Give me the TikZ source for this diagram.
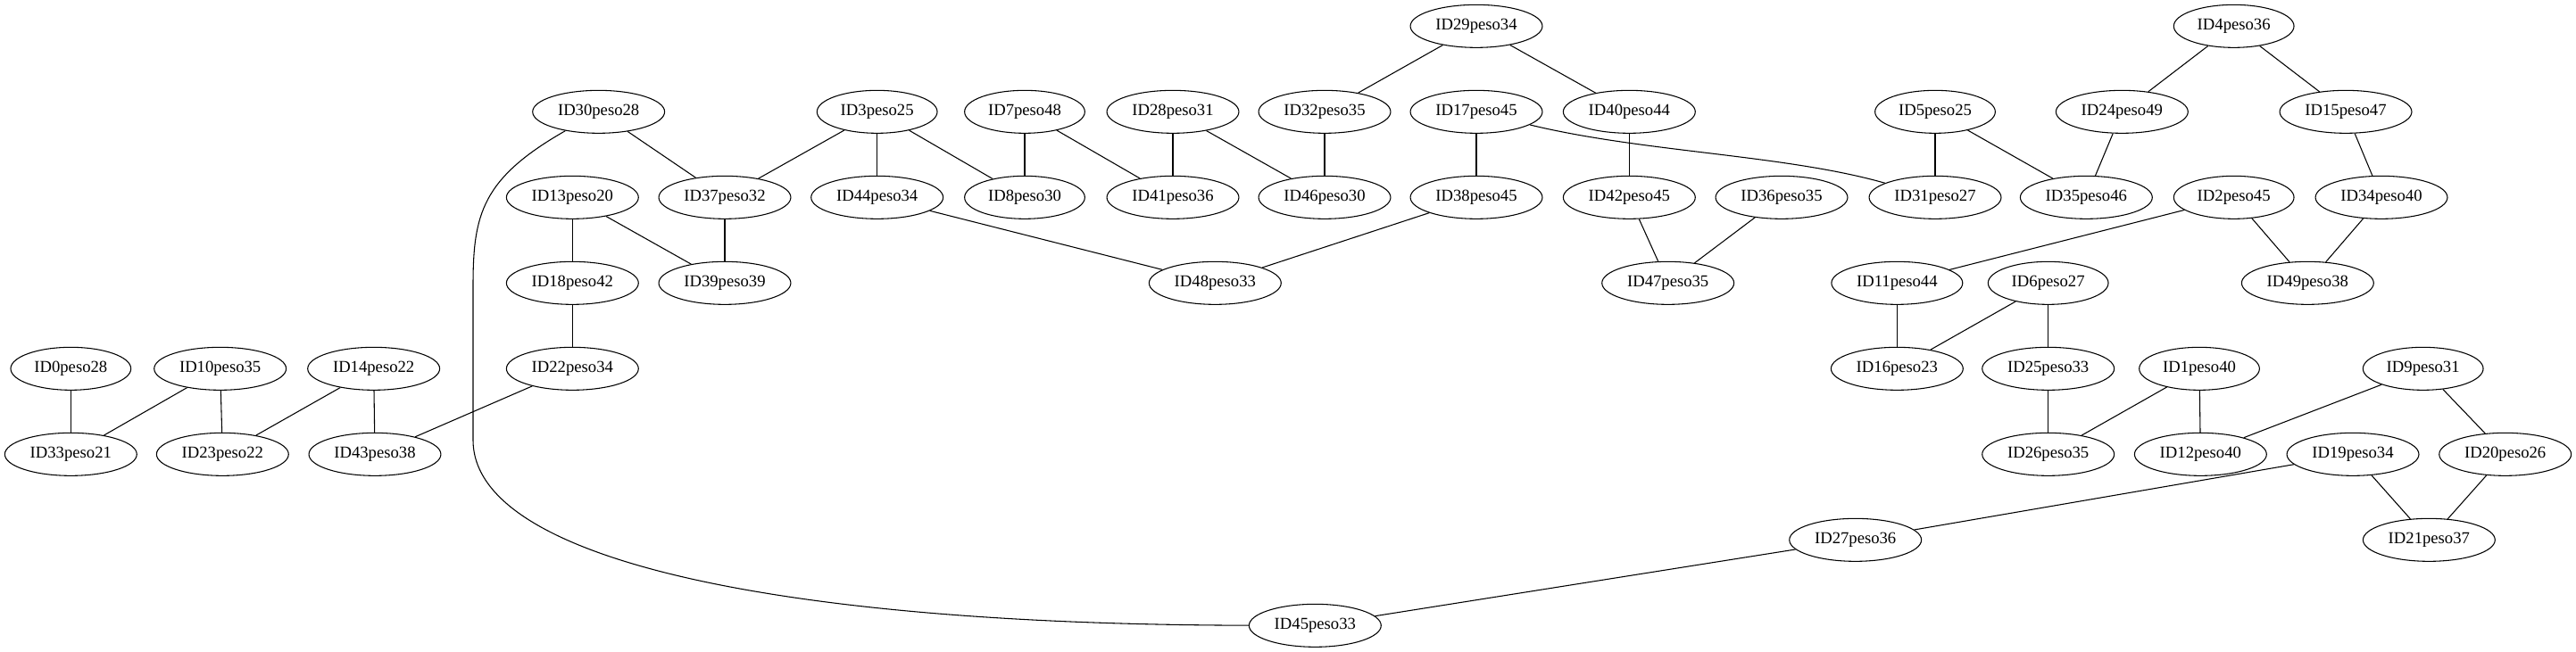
\documentclass[tikz,border=0pt]{standalone}
\usepackage{fontspec}
\setmainfont{Liberation Serif}
\usetikzlibrary{shapes.geometric}
\tikzset{graphnode/.style={
		ellipse,
		draw,
		line width=0.8pt,
		inner xsep=5pt,
		inner ysep=2pt,
		minimum height=36pt,
		font=\fontsize{14}{16}\selectfont
	}}

\begin{document}
\begin{tikzpicture}[x=1pt,y=-1pt,line width=0.8pt]
				\useasboundingbox (0,0) rectangle (2164.5,548.25);
				\node[graphnode] (ID29) at (1240.5,22) {ID29peso34};
				\node[graphnode] (ID4) at (1877,22) {ID4peso36};
				
				\node[graphnode] (ID30) at (503,94) {ID30peso28};
				\node[graphnode] (ID3) at (737,94) {ID3peso25};
				\node[graphnode] (ID7) at (861,94) {ID7peso48};
				\node[graphnode] (ID28) at (985.5,94) {ID28peso31};
				\node[graphnode] (ID32) at (1113,94) {ID32peso35};
				\node[graphnode] (ID17) at (1240.5,94) {ID17peso45};
				\node[graphnode] (ID40) at (1369,94) {ID40peso44};
				\node[graphnode] (ID5) at (1626,94) {ID5peso25};
				\node[graphnode] (ID24) at (1783,94) {ID24peso49};
				\node[graphnode] (ID15) at (1971,94) {ID15peso47};
				
				\node[graphnode] (ID13) at (481,166) {ID13peso20};
				\node[graphnode] (ID37) at (609,166) {ID37peso32};
				\node[graphnode] (ID44) at (737,166) {ID44peso34};
				\node[graphnode] (ID8) at (861,166) {ID8peso30};
				\node[graphnode] (ID41) at (985.5,166) {ID41peso36};
				\node[graphnode] (ID46) at (1113,166) {ID46peso30};
				\node[graphnode] (ID38) at (1240.5,166) {ID38peso45};
				\node[graphnode] (ID42) at (1369,166) {ID42peso45};
				\node[graphnode] (ID36) at (1497,166) {ID36peso35};
				\node[graphnode] (ID31) at (1626,166) {ID31peso27};
				\node[graphnode] (ID35) at (1753,166) {ID35peso46};
				\node[graphnode] (ID2) at (1877,166) {ID2peso45};
				\node[graphnode] (ID34) at (2001,166) {ID34peso40};
				
				\node[graphnode] (ID18) at (481,238) {ID18peso42};
				\node[graphnode] (ID39) at (609,238) {ID39peso39};
				\node[graphnode] (ID48) at (1021,238) {ID48peso33};
				\node[graphnode] (ID47) at (1401.5,238) {ID47peso35};
				\node[graphnode] (ID11) at (1594,238) {ID11peso44};
				\node[graphnode] (ID6) at (1721,238) {ID6peso27};
				\node[graphnode] (ID49) at (1939,238) {ID49peso38};
				
				\node[graphnode] (ID0) at (59.5,310) {ID0peso28};
				\node[graphnode] (ID10) at (185,310) {ID10peso35};
				\node[graphnode] (ID14) at (314,310) {ID14peso22};
				\node[graphnode] (ID22) at (481,310) {ID22peso34};
				\node[graphnode] (ID16) at (1594,310) {ID16peso23};
				\node[graphnode] (ID25) at (1721,310) {ID25peso33};
				\node[graphnode] (ID1) at (1848,310) {ID1peso40};
				\node[graphnode] (ID9) at (2036,310) {ID9peso31};
				
				\node[graphnode] (ID33) at (59.5,382) {ID33peso21};
				\node[graphnode] (ID23) at (187,382) {ID23peso22};
				\node[graphnode] (ID43) at (315,382) {ID43peso38};
				\node[graphnode] (ID26) at (1721,382) {ID26peso35};
				\node[graphnode] (ID12) at (1849,382) {ID12peso40};
				\node[graphnode] (ID19) at (1977,382) {ID19peso34};
				\node[graphnode] (ID20) at (2105,382) {ID20peso26};
				
				\node[graphnode] (ID27) at (1559,454) {ID27peso36};
				\node[graphnode] (ID21) at (2041,454) {ID21peso37};
				
				\node[graphnode] (ID45) at (1105,526) {ID45peso33};
				
				\draw (ID29) -- (ID32);
				\draw (ID29) -- (ID40);
				\draw (ID4) -- (ID24);
				\draw (ID4) -- (ID15);
				\draw (ID30) -- (ID37);
				\draw (ID30) .. controls (405,150) and (397.5,180) .. (397.5,240) -- (397.5,370) .. controls (397.5,470) and (650,525) .. (ID45);
				\draw (ID3) -- (ID37);
				\draw (ID3) -- (ID44);
				\draw (ID3) -- (ID8);
				\draw (ID7) -- (ID8);
				\draw (ID7) -- (ID41);
				\draw (ID28) -- (ID41);
				\draw (ID28) -- (ID46);
				\draw (ID32) -- (ID46);
				\draw (ID17) -- (ID38);
				\draw (ID17) .. controls (1380,128) and (1500,130) .. (ID31);
				\draw (ID40) -- (ID42);
				\draw (ID5) -- (ID31);
				\draw (ID5) -- (ID35);
				\draw (ID24) -- (ID35);
				\draw (ID15) -- (ID34);
				\draw (ID13) -- (ID18);
				\draw (ID13) -- (ID39);
				\draw (ID37) -- (ID39);
				\draw (ID44) -- (ID48);
				\draw (ID38) -- (ID48);
				\draw (ID42) -- (ID47);
				\draw (ID36) -- (ID47);
				\draw (ID2) -- (ID11);
				\draw (ID2) -- (ID49);
				\draw (ID34) -- (ID49);
				\draw (ID18) -- (ID22);
				\draw (ID11) -- (ID16);
				\draw (ID6) -- (ID16);
				\draw (ID6) -- (ID25);
				\draw (ID0) -- (ID33);
				\draw (ID10) -- (ID33);
				\draw (ID10) -- (ID23);
				\draw (ID14) -- (ID23);
				\draw (ID14) -- (ID43);
				\draw (ID22) -- (ID43);
				\draw (ID25) -- (ID26);
				\draw (ID1) -- (ID26);
				\draw (ID1) -- (ID12);
				\draw (ID9) -- (ID12);
				\draw (ID9) -- (ID20);
				\draw (ID20) -- (ID21);
				\draw (ID19) -- (ID21);
				\draw (ID19) -- (ID27);
				\draw (ID27) -- (ID45);
			\end{tikzpicture}
\end{document}
